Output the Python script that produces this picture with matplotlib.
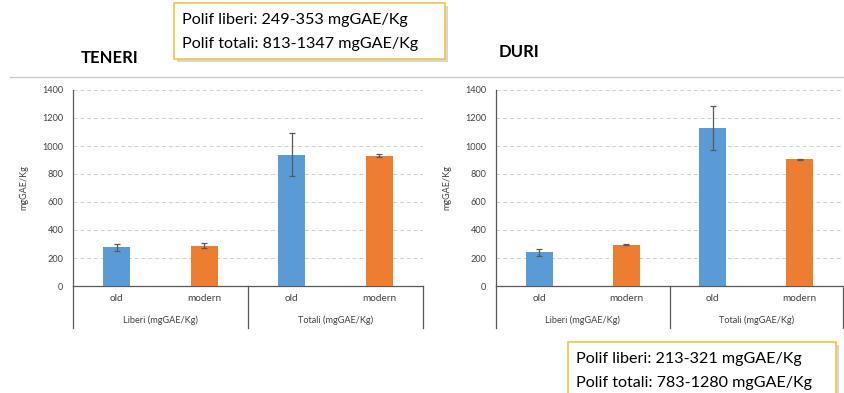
import numpy as np
import matplotlib
matplotlib.use("Agg")
import matplotlib.pyplot as plt
from matplotlib.patches import Rectangle
from matplotlib.lines import Line2D

plt.rcParams['font.family'] = ['Lato', 'DejaVu Sans']

# data
categories = ["old", "modern", "old", "modern"]
groups = ["Liberi (mgGAE/Kg)", "Totali (mgGAE/Kg)"]
teneri_vals = [277, 289, 939, 932]
teneri_err = [24, 17, 155, 10]
duri_vals = [241, 294, 1128, 905]
duri_err = [24, 3, 155, 3]
bar_colors = ["#5B9BD5", "#ED7D31", "#5B9BD5", "#ED7D31"]
yticks = [0, 200, 400, 600, 800, 1000, 1200, 1400]

W, H = 844, 393
fig = plt.figure(figsize=(W / 100, H / 100), dpi=100)


def px(x, y):
    return x / W, 1 - y / H


def draw_chart(rect, vals, errs):
    ax = fig.add_axes(rect)
    x = np.arange(len(vals))
    ax.bar(x, vals, width=0.31, color=bar_colors, zorder=3,
           yerr=errs, error_kw=dict(ecolor="#595959", elinewidth=0.9,
                                    capsize=2.5, capthick=0.9))
    ax.set_xlim(-0.5, 3.5)
    ax.set_ylim(0, 1400)
    ax.set_yticks(yticks)
    ax.set_yticklabels([str(t) for t in yticks], fontsize=6.6, color="#404040")
    ax.tick_params(axis="y", length=0, pad=7)
    ax.tick_params(axis="x", length=0)
    ax.set_xticks([])
    ax.grid(axis="y", color="#D0D0D0", linestyle=(0, (4, 3)), linewidth=0.7, zorder=0)
    for s in ["top", "right"]:
        ax.spines[s].set_visible(False)
    ax.spines["left"].set_color("#595959")
    ax.spines["bottom"].set_color("#595959")
    ax.spines["left"].set_linewidth(0.9)
    ax.spines["bottom"].set_linewidth(0.9)
    ax.set_ylabel("mgGAE/Kg", fontsize=6.5, color="#404040", labelpad=10)

    # two-level category axis
    tr = ax.get_xaxis_transform()
    for xi, lab in zip(x, categories):
        ax.text(xi, -0.065, lab, transform=tr, ha="center", va="center",
                fontsize=7.2, color="#404040")
    for gi, g in enumerate(groups):
        ax.text(2 * gi + 0.5, -0.175, g, transform=tr, ha="center", va="center",
                fontsize=6.6, color="#404040")
    for xv in [-0.5, 1.5, 3.5]:
        ax.add_line(Line2D([xv, xv], [0, -0.214], transform=tr, color="#595959",
                           linewidth=0.9, clip_on=False))
    return ax


draw_chart([73 / W, 1 - 286 / H, 350 / W, 196 / H], teneri_vals, teneri_err)
draw_chart([496 / W, 1 - 286 / H, 347 / W, 196 / H], duri_vals, duri_err)

# separator line
fig.add_artist(Line2D([10 / W, 1.0], [1 - 77 / H, 1 - 77 / H], color="#C8C8C8", linewidth=0.9))

fig.text(*px(110, 58), "TENERI", ha="center", va="center", fontsize=12,
         fontweight="bold", color="black")
fig.text(*px(519, 52), "DURI", ha="center", va="center", fontsize=12,
         fontweight="bold", color="black")


def note_box(x0, y0, x1, y1, lines):
    shadow = Rectangle(px(x0 + 3, y1 + 3), (x1 - x0) / W, (y1 - y0) / H,
                       transform=fig.transFigure, facecolor="#BBBBBB",
                       edgecolor="none", alpha=0.6, zorder=1)
    box = Rectangle(px(x0, y1), (x1 - x0) / W, (y1 - y0) / H,
                    transform=fig.transFigure, facecolor="white",
                    edgecolor="#F5C342", linewidth=1.2, zorder=2)
    fig.add_artist(shadow)
    fig.add_artist(box)
    for i, t in enumerate(lines):
        fig.text(*px(x0 + 8, y0 + 17 + i * 24), t, ha="left", va="center",
                 fontsize=11.6, color="black", zorder=3)


note_box(174, 3, 445, 59, ["Polif liberi: 249-353 mgGAE/Kg",
                           "Polif totali: 813-1347 mgGAE/Kg"])
note_box(568, 342, 836, 398, ["Polif liberi: 213-321 mgGAE/Kg",
                              "Polif totali: 783-1280 mgGAE/Kg"])

fig.savefig("out.png", dpi=100)
